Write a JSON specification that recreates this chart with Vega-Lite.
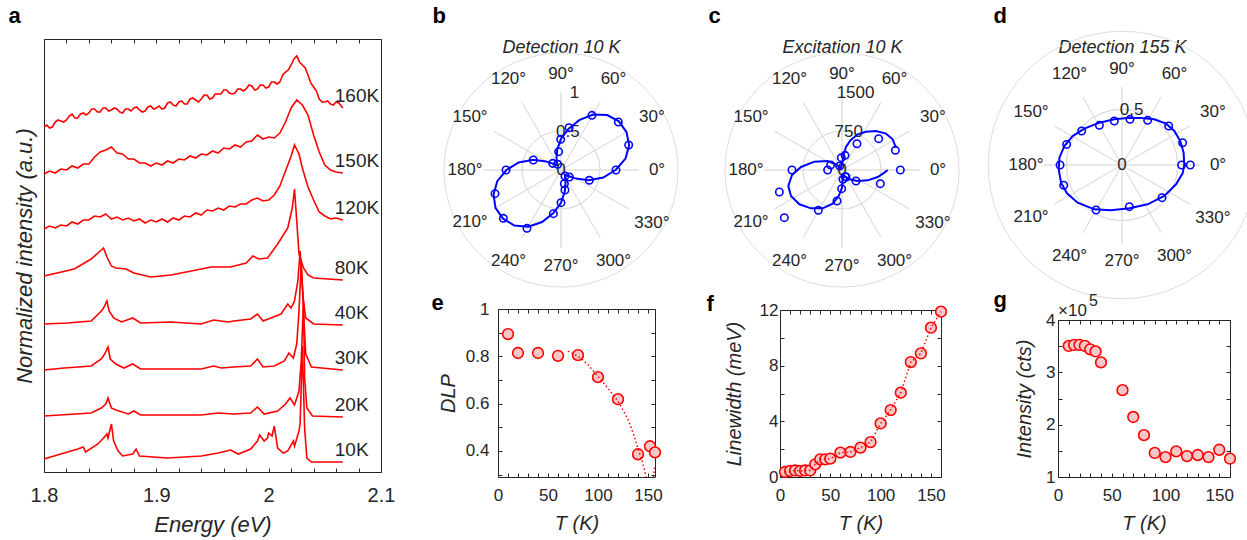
{
"$schema": "https://vega.github.io/schema/vega-lite/v6.json",
"background": "white",
"padding": {"left": 7, "top": 3, "right": 5, "bottom": 2},
"config": {
  "font": "Liberation Sans",
  "view": {"stroke": "#262626", "strokeWidth": 1},
  "axis": {"domain": false, "grid": false, "labelColor": "#262626", "titleColor": "#262626", "tickColor": "#262626", "titleFontWeight": "normal", "titleFontStyle": "italic", "labelFlush": false, "labelOverlap": false, "labelFont": "Liberation Sans", "titleFont": "Liberation Sans"}
},
"datasets": {
"spec": [
{"T":"160K","E":1.8,"I":345},{"T":"160K","E":1.8025,"I":347},{"T":"160K","E":1.805,"I":344},{"T":"160K","E":1.8075,"I":345},{"T":"160K","E":1.81,"I":350},{"T":"160K","E":1.8125,"I":352},{"T":"160K","E":1.815,"I":351},{"T":"160K","E":1.8175,"I":350},{"T":"160K","E":1.82,"I":352},{"T":"160K","E":1.8225,"I":356},{"T":"160K","E":1.825,"I":358},{"T":"160K","E":1.8275,"I":354},{"T":"160K","E":1.83,"I":354},{"T":"160K","E":1.8325,"I":358},{"T":"160K","E":1.835,"I":359},{"T":"160K","E":1.8375,"I":357},{"T":"160K","E":1.84,"I":359},{"T":"160K","E":1.8425,"I":363},{"T":"160K","E":1.845,"I":363},{"T":"160K","E":1.8475,"I":360},{"T":"160K","E":1.85,"I":360},{"T":"160K","E":1.8525,"I":364},{"T":"160K","E":1.855,"I":364},{"T":"160K","E":1.8575,"I":361},{"T":"160K","E":1.86,"I":362},{"T":"160K","E":1.8625,"I":364},{"T":"160K","E":1.865,"I":363},{"T":"160K","E":1.8675,"I":360},{"T":"160K","E":1.87,"I":359},{"T":"160K","E":1.8725,"I":363},{"T":"160K","E":1.875,"I":363},{"T":"160K","E":1.8775,"I":361},{"T":"160K","E":1.88,"I":364},{"T":"160K","E":1.8825,"I":365},{"T":"160K","E":1.885,"I":362},{"T":"160K","E":1.8875,"I":360},{"T":"160K","E":1.89,"I":361},{"T":"160K","E":1.8925,"I":365},{"T":"160K","E":1.895,"I":366},{"T":"160K","E":1.8975,"I":363},{"T":"160K","E":1.9,"I":364},{"T":"160K","E":1.9025,"I":366},{"T":"160K","E":1.905,"I":363},{"T":"160K","E":1.9075,"I":364},{"T":"160K","E":1.91,"I":369},{"T":"160K","E":1.9125,"I":370},{"T":"160K","E":1.915,"I":367},{"T":"160K","E":1.9175,"I":366},{"T":"160K","E":1.92,"I":370},{"T":"160K","E":1.9225,"I":371},{"T":"160K","E":1.925,"I":368},{"T":"160K","E":1.9275,"I":368},{"T":"160K","E":1.93,"I":373},{"T":"160K","E":1.9325,"I":374},{"T":"160K","E":1.935,"I":372},{"T":"160K","E":1.9375,"I":370},{"T":"160K","E":1.94,"I":373},{"T":"160K","E":1.9425,"I":377},{"T":"160K","E":1.945,"I":377},{"T":"160K","E":1.9475,"I":373},{"T":"160K","E":1.95,"I":374},{"T":"160K","E":1.9525,"I":378},{"T":"160K","E":1.955,"I":378},{"T":"160K","E":1.9575,"I":378},{"T":"160K","E":1.96,"I":382},{"T":"160K","E":1.9625,"I":382},{"T":"160K","E":1.965,"I":379},{"T":"160K","E":1.9675,"I":378},{"T":"160K","E":1.97,"I":379},{"T":"160K","E":1.9725,"I":383},{"T":"160K","E":1.975,"I":383},{"T":"160K","E":1.9775,"I":381},{"T":"160K","E":1.98,"I":383},{"T":"160K","E":1.9825,"I":387},{"T":"160K","E":1.985,"I":386},{"T":"160K","E":1.9875,"I":382},{"T":"160K","E":1.99,"I":383},{"T":"160K","E":1.9925,"I":387},{"T":"160K","E":1.995,"I":387},{"T":"160K","E":1.9975,"I":384},{"T":"160K","E":2.0,"I":385},{"T":"160K","E":2.0025,"I":390},{"T":"160K","E":2.005,"I":390},{"T":"160K","E":2.0075,"I":388},{"T":"160K","E":2.01,"I":390},{"T":"160K","E":2.0125,"I":397},{"T":"160K","E":2.015,"I":400},{"T":"160K","E":2.0175,"I":402},{"T":"160K","E":2.02,"I":407},{"T":"160K","E":2.0225,"I":413},{"T":"160K","E":2.025,"I":416},{"T":"160K","E":2.0275,"I":410},{"T":"160K","E":2.03,"I":407},{"T":"160K","E":2.0325,"I":404},{"T":"160K","E":2.035,"I":397},{"T":"160K","E":2.0375,"I":389},{"T":"160K","E":2.04,"I":385},{"T":"160K","E":2.0425,"I":381},{"T":"160K","E":2.045,"I":373},{"T":"160K","E":2.0475,"I":370},{"T":"160K","E":2.05,"I":370},{"T":"160K","E":2.0525,"I":371},{"T":"160K","E":2.055,"I":368},{"T":"160K","E":2.0575,"I":367},{"T":"160K","E":2.06,"I":370},{"T":"160K","E":2.0625,"I":369},{"T":"160K","E":2.066,"I":364},
{"T":"150K","E":1.800,"I":298},{"T":"150K","E":1.805,"I":301},{"T":"150K","E":1.810,"I":299},{"T":"150K","E":1.815,"I":303},{"T":"150K","E":1.820,"I":302},{"T":"150K","E":1.825,"I":306},{"T":"150K","E":1.830,"I":304},{"T":"150K","E":1.835,"I":308},{"T":"150K","E":1.840,"I":308},{"T":"150K","E":1.845,"I":315},{"T":"150K","E":1.850,"I":320},{"T":"150K","E":1.855,"I":322},{"T":"150K","E":1.860,"I":325},{"T":"150K","E":1.865,"I":319},{"T":"150K","E":1.870,"I":318},{"T":"150K","E":1.875,"I":313},{"T":"150K","E":1.880,"I":313},{"T":"150K","E":1.885,"I":309},{"T":"150K","E":1.890,"I":309},{"T":"150K","E":1.895,"I":306},{"T":"150K","E":1.900,"I":309},{"T":"150K","E":1.905,"I":307},{"T":"150K","E":1.910,"I":311},{"T":"150K","E":1.915,"I":309},{"T":"150K","E":1.920,"I":313},{"T":"150K","E":1.925,"I":312},{"T":"150K","E":1.930,"I":316},{"T":"150K","E":1.935,"I":314},{"T":"150K","E":1.940,"I":318},{"T":"150K","E":1.945,"I":317},{"T":"150K","E":1.950,"I":321},{"T":"150K","E":1.955,"I":319},{"T":"150K","E":1.960,"I":324},{"T":"150K","E":1.965,"I":323},{"T":"150K","E":1.970,"I":327},{"T":"150K","E":1.975,"I":325},{"T":"150K","E":1.980,"I":330},{"T":"150K","E":1.985,"I":331},{"T":"150K","E":1.990,"I":337},{"T":"150K","E":1.995,"I":333},{"T":"150K","E":2.000,"I":335},{"T":"150K","E":2.005,"I":334},{"T":"150K","E":2.010,"I":339},{"T":"150K","E":2.015,"I":350},{"T":"150K","E":2.020,"I":364},{"T":"150K","E":2.025,"I":372},{"T":"150K","E":2.030,"I":367},{"T":"150K","E":2.035,"I":357},{"T":"150K","E":2.040,"I":337},{"T":"150K","E":2.045,"I":320},{"T":"150K","E":2.050,"I":307},{"T":"150K","E":2.055,"I":302},{"T":"150K","E":2.060,"I":300},{"T":"150K","E":2.066,"I":299},
{"T":"120K","E":1.800,"I":243},{"T":"120K","E":1.805,"I":246},{"T":"120K","E":1.810,"I":244},{"T":"120K","E":1.815,"I":247},{"T":"120K","E":1.820,"I":246},{"T":"120K","E":1.825,"I":250},{"T":"120K","E":1.830,"I":248},{"T":"120K","E":1.835,"I":252},{"T":"120K","E":1.840,"I":252},{"T":"120K","E":1.845,"I":256},{"T":"120K","E":1.850,"I":255},{"T":"120K","E":1.855,"I":258},{"T":"120K","E":1.860,"I":253},{"T":"120K","E":1.865,"I":255},{"T":"120K","E":1.870,"I":252},{"T":"120K","E":1.875,"I":254},{"T":"120K","E":1.880,"I":251},{"T":"120K","E":1.885,"I":253},{"T":"120K","E":1.890,"I":249},{"T":"120K","E":1.895,"I":252},{"T":"120K","E":1.900,"I":250},{"T":"120K","E":1.905,"I":253},{"T":"120K","E":1.910,"I":250},{"T":"120K","E":1.915,"I":254},{"T":"120K","E":1.920,"I":252},{"T":"120K","E":1.925,"I":256},{"T":"120K","E":1.930,"I":255},{"T":"120K","E":1.935,"I":259},{"T":"120K","E":1.940,"I":257},{"T":"120K","E":1.945,"I":262},{"T":"120K","E":1.950,"I":261},{"T":"120K","E":1.955,"I":264},{"T":"120K","E":1.960,"I":262},{"T":"120K","E":1.965,"I":266},{"T":"120K","E":1.970,"I":265},{"T":"120K","E":1.975,"I":268},{"T":"120K","E":1.980,"I":268},{"T":"120K","E":1.985,"I":272},{"T":"120K","E":1.990,"I":274},{"T":"120K","E":1.995,"I":271},{"T":"120K","E":2.000,"I":272},{"T":"120K","E":2.005,"I":277},{"T":"120K","E":2.010,"I":286},{"T":"120K","E":2.015,"I":301},{"T":"120K","E":2.020,"I":316},{"T":"120K","E":2.023,"I":327},{"T":"120K","E":2.027,"I":318},{"T":"120K","E":2.030,"I":304},{"T":"120K","E":2.035,"I":285},{"T":"120K","E":2.040,"I":272},{"T":"120K","E":2.045,"I":260},{"T":"120K","E":2.050,"I":256},{"T":"120K","E":2.055,"I":253},{"T":"120K","E":2.060,"I":254},{"T":"120K","E":2.066,"I":252},
{"T":"80K","E":1.800,"I":196},{"T":"80K","E":1.827,"I":203},{"T":"80K","E":1.842,"I":213},{"T":"80K","E":1.848,"I":219},{"T":"80K","E":1.853,"I":224},{"T":"80K","E":1.856,"I":215},{"T":"80K","E":1.860,"I":206},{"T":"80K","E":1.864,"I":204},{"T":"80K","E":1.873,"I":203},{"T":"80K","E":1.880,"I":199},{"T":"80K","E":1.895,"I":195},{"T":"80K","E":1.913,"I":197},{"T":"80K","E":1.931,"I":201},{"T":"80K","E":1.949,"I":205},{"T":"80K","E":1.966,"I":205},{"T":"80K","E":1.980,"I":209},{"T":"80K","E":1.986,"I":216},{"T":"80K","E":1.991,"I":213},{"T":"80K","E":1.999,"I":214},{"T":"80K","E":2.008,"I":228},{"T":"80K","E":2.017,"I":244},{"T":"80K","E":2.021,"I":264},{"T":"80K","E":2.023,"I":283},{"T":"80K","E":2.025,"I":251},{"T":"80K","E":2.027,"I":218},{"T":"80K","E":2.031,"I":204},{"T":"80K","E":2.035,"I":197},{"T":"80K","E":2.040,"I":194},{"T":"80K","E":2.066,"I":192},
{"T":"40K","E":1.800,"I":148},{"T":"40K","E":1.821,"I":149},{"T":"40K","E":1.842,"I":151},{"T":"40K","E":1.851,"I":161},{"T":"40K","E":1.853,"I":164},{"T":"40K","E":1.856,"I":171},{"T":"40K","E":1.858,"I":161},{"T":"40K","E":1.862,"I":154},{"T":"40K","E":1.869,"I":150},{"T":"40K","E":1.879,"I":154},{"T":"40K","E":1.886,"I":149},{"T":"40K","E":1.913,"I":150},{"T":"40K","E":1.940,"I":148},{"T":"40K","E":1.951,"I":152},{"T":"40K","E":1.964,"I":150},{"T":"40K","E":1.969,"I":151},{"T":"40K","E":1.984,"I":153},{"T":"40K","E":1.990,"I":158},{"T":"40K","E":1.995,"I":151},{"T":"40K","E":2.002,"I":154},{"T":"40K","E":2.011,"I":158},{"T":"40K","E":2.017,"I":168},{"T":"40K","E":2.020,"I":164},{"T":"40K","E":2.023,"I":171},{"T":"40K","E":2.026,"I":191},{"T":"40K","E":2.028,"I":221},{"T":"40K","E":2.031,"I":171},{"T":"40K","E":2.033,"I":154},{"T":"40K","E":2.040,"I":148},{"T":"40K","E":2.066,"I":147},
{"T":"30K","E":1.800,"I":102},{"T":"30K","E":1.818,"I":104},{"T":"30K","E":1.842,"I":106},{"T":"30K","E":1.851,"I":113},{"T":"30K","E":1.854,"I":118},{"T":"30K","E":1.857,"I":125},{"T":"30K","E":1.859,"I":113},{"T":"30K","E":1.864,"I":108},{"T":"30K","E":1.871,"I":104},{"T":"30K","E":1.879,"I":108},{"T":"30K","E":1.886,"I":103},{"T":"30K","E":1.940,"I":103},{"T":"30K","E":1.951,"I":106},{"T":"30K","E":1.958,"I":104},{"T":"30K","E":1.969,"I":105},{"T":"30K","E":1.984,"I":106},{"T":"30K","E":1.990,"I":113},{"T":"30K","E":1.995,"I":105},{"T":"30K","E":2.005,"I":106},{"T":"30K","E":2.014,"I":111},{"T":"30K","E":2.018,"I":119},{"T":"30K","E":2.022,"I":114},{"T":"30K","E":2.025,"I":128},{"T":"30K","E":2.027,"I":161},{"T":"30K","E":2.029,"I":209},{"T":"30K","E":2.031,"I":161},{"T":"30K","E":2.033,"I":118},{"T":"30K","E":2.038,"I":105},{"T":"30K","E":2.066,"I":102},
{"T":"20K","E":1.800,"I":56},{"T":"20K","E":1.842,"I":59},{"T":"20K","E":1.851,"I":64},{"T":"20K","E":1.855,"I":68},{"T":"20K","E":1.857,"I":74},{"T":"20K","E":1.860,"I":64},{"T":"20K","E":1.864,"I":62},{"T":"20K","E":1.875,"I":58},{"T":"20K","E":1.880,"I":61},{"T":"20K","E":1.886,"I":57},{"T":"20K","E":1.940,"I":57},{"T":"20K","E":1.955,"I":59},{"T":"20K","E":1.969,"I":58},{"T":"20K","E":1.984,"I":59},{"T":"20K","E":1.990,"I":65},{"T":"20K","E":1.996,"I":58},{"T":"20K","E":2.008,"I":61},{"T":"20K","E":2.015,"I":68},{"T":"20K","E":2.019,"I":74},{"T":"20K","E":2.023,"I":67},{"T":"20K","E":2.027,"I":81},{"T":"20K","E":2.029,"I":111},{"T":"20K","E":2.031,"I":171},{"T":"20K","E":2.032,"I":94},{"T":"20K","E":2.034,"I":64},{"T":"20K","E":2.039,"I":56},{"T":"20K","E":2.066,"I":55},
{"T":"10K","E":1.800,"I":13},{"T":"10K","E":1.821,"I":20},{"T":"10K","E":1.830,"I":23},{"T":"10K","E":1.835,"I":25},{"T":"10K","E":1.837,"I":20},{"T":"10K","E":1.848,"I":28},{"T":"10K","E":1.853,"I":34},{"T":"10K","E":1.856,"I":38},{"T":"10K","E":1.857,"I":34},{"T":"10K","E":1.860,"I":48},{"T":"10K","E":1.862,"I":31},{"T":"10K","E":1.866,"I":21},{"T":"10K","E":1.870,"I":16},{"T":"10K","E":1.879,"I":18},{"T":"10K","E":1.882,"I":23},{"T":"10K","E":1.885,"I":16},{"T":"10K","E":1.910,"I":14},{"T":"10K","E":1.940,"I":16},{"T":"10K","E":1.955,"I":19},{"T":"10K","E":1.966,"I":22},{"T":"10K","E":1.973,"I":18},{"T":"10K","E":1.984,"I":23},{"T":"10K","E":1.990,"I":31},{"T":"10K","E":1.992,"I":37},{"T":"10K","E":1.996,"I":31},{"T":"10K","E":1.999,"I":34},{"T":"10K","E":2.000,"I":39},{"T":"10K","E":2.003,"I":36},{"T":"10K","E":2.005,"I":46},{"T":"10K","E":2.008,"I":24},{"T":"10K","E":2.013,"I":19},{"T":"10K","E":2.017,"I":21},{"T":"10K","E":2.022,"I":31},{"T":"10K","E":2.023,"I":26},{"T":"10K","E":2.027,"I":41},{"T":"10K","E":2.028,"I":48},{"T":"10K","E":2.030,"I":126},{"T":"10K","E":2.032,"I":44},{"T":"10K","E":2.034,"I":14},{"T":"10K","E":2.038,"I":10},{"T":"10K","E":2.066,"I":10}
],
"ang": [{"deg":0,"lab":"0°"},{"deg":30,"lab":"30°"},{"deg":60,"lab":"60°"},{"deg":90,"lab":"90°"},{"deg":120,"lab":"120°"},{"deg":150,"lab":"150°"},{"deg":180,"lab":"180°"},{"deg":210,"lab":"210°"},{"deg":240,"lab":"240°"},{"deg":270,"lab":"270°"},{"deg":300,"lab":"300°"},{"deg":330,"lab":"330°"}],
"rt_b": [{"r":0,"lab":"0"},{"r":0.5,"lab":"0.5"},{"r":1,"lab":"1"}],
"rt_c": [{"r":0,"lab":"0"},{"r":750,"lab":"750"},{"r":1500,"lab":"1500"}],
"rt_d": [{"r":0,"lab":"0"},{"r":0.5,"lab":"0.5"},{"r":0.7,"lab":""}],
"pb_pts": [{"x":0.103,"y":0.543},{"x":-0.004,"y":0.393},{"x":0.397,"y":0.701},{"x":0.735,"y":0.615},{"x":0.868,"y":0.321},{"x":0.705,"y":0},{"x":0.363,"y":-0.132},{"x":0.107,"y":-0.09},{"x":0.051,"y":-0.077},{"x":-0.03,"y":0.235},{"x":-0.107,"y":0.085},{"x":-0.043,"y":0.073},{"x":-0.355,"y":0.128},{"x":-0.705,"y":0},{"x":-0.846,"y":-0.303},{"x":-0.739,"y":-0.62},{"x":-0.436,"y":-0.748},{"x":-0.098,"y":-0.56},{"x":0,"y":-0.419},{"x":0.051,"y":-0.256},{"x":0.043,"y":-0.175}],
"pb_curve": [{"i":0,"x":0.7,"y":0},{"i":1,"x":0.827,"y":0.146},{"i":2,"x":0.874,"y":0.318},{"i":3,"x":0.84,"y":0.485},{"i":4,"x":0.743,"y":0.624},{"i":5,"x":0.592,"y":0.705},{"i":6,"x":0.41,"y":0.71},{"i":7,"x":0.233,"y":0.639},{"i":8,"x":0.092,"y":0.522},{"i":9,"x":0,"y":0.4},{"i":10,"x":-0.047,"y":0.266},{"i":11,"x":-0.058,"y":0.16},{"i":12,"x":-0.05,"y":0.087},{"i":13,"x":-0.051,"y":0.061},{"i":14,"x":-0.092,"y":0.077},{"i":15,"x":-0.191,"y":0.11},{"i":16,"x":-0.357,"y":0.13},{"i":17,"x":-0.542,"y":0.096},{"i":18,"x":-0.7,"y":0},{"i":19,"x":-0.817,"y":-0.144},{"i":20,"x":-0.865,"y":-0.315},{"i":21,"x":-0.84,"y":-0.485},{"i":22,"x":-0.743,"y":-0.624},{"i":23,"x":-0.598,"y":-0.712},{"i":24,"x":-0.42,"y":-0.727},{"i":25,"x":-0.243,"y":-0.667},{"i":26,"x":-0.097,"y":-0.552},{"i":27,"x":0,"y":-0.42},{"i":28,"x":0.049,"y":-0.276},{"i":29,"x":0.058,"y":-0.16},{"i":30,"x":0.05,"y":-0.087},{"i":31,"x":0.051,"y":-0.061},{"i":32,"x":0.092,"y":-0.077},{"i":33,"x":0.191,"y":-0.11},{"i":34,"x":0.357,"y":-0.13},{"i":35,"x":0.542,"y":-0.096},{"i":36,"x":0.7,"y":0}],
"pc_pts": [{"x":288,"y":506},{"x":705,"y":603},{"x":1026,"y":378},{"x":1122,"y":0},{"x":737,"y":-263},{"x":269,"y":-212},{"x":77,"y":-135},{"x":-962,"y":0},{"x":-1205,"y":-423},{"x":-1109,"y":-917},{"x":-455,"y":-776},{"x":-96,"y":-596},{"x":-6,"y":-359},{"x":19,"y":-179},{"x":64,"y":-128},{"x":-276,"y":0},{"x":-218,"y":96},{"x":-45,"y":77},{"x":-13,"y":237},{"x":58,"y":282}],
"pc_curve": [{"i":0,"x":878,"y":0},{"i":1,"x":814,"y":-51},{"i":2,"x":686,"y":-135},{"i":3,"x":494,"y":-199},{"i":4,"x":301,"y":-212},{"i":5,"x":141,"y":-179},{"i":6,"x":45,"y":-115},{"i":7,"x":13,"y":-179},{"i":8,"x":0,"y":-340},{"i":9,"x":-64,"y":-500},{"i":10,"x":-179,"y":-647},{"i":11,"x":-372,"y":-737},{"i":12,"x":-596,"y":-737},{"i":13,"x":-820,"y":-660},{"i":14,"x":-981,"y":-500},{"i":15,"x":-1032,"y":-308},{"i":16,"x":-962,"y":-96},{"i":17,"x":-788,"y":58},{"i":18,"x":-532,"y":160},{"i":19,"x":-276,"y":173},{"i":20,"x":-115,"y":109},{"i":21,"x":-32,"y":32},{"i":22,"x":-20,"y":60},{"i":23,"x":13,"y":173},{"i":24,"x":32,"y":301},{"i":25,"x":77,"y":442},{"i":26,"x":160,"y":570},{"i":27,"x":301,"y":686},{"i":28,"x":462,"y":737},{"i":29,"x":654,"y":750},{"i":30,"x":846,"y":699},{"i":31,"x":974,"y":590},{"i":32,"x":1038,"y":429}],
"pd_pts": [{"x":0.072,"y":0.41},{"x":0.23,"y":0.401},{"x":0.419,"y":0.35},{"x":0.544,"y":0.2},{"x":0.535,"y":0},{"x":0.613,"y":0},{"x":0.359,"y":-0.293},{"x":0.066,"y":-0.374},{"x":-0.233,"y":-0.404},{"x":-0.523,"y":-0.182},{"x":-0.556,"y":0},{"x":-0.497,"y":0.185},{"x":-0.362,"y":0.305},{"x":-0.203,"y":0.356},{"x":-0.069,"y":0.395}],
"pd_curve": [{"i":0,"x":0.559,"y":0},{"i":1,"x":0.553,"y":0.111},{"i":2,"x":0.523,"y":0.215},{"i":3,"x":0.47,"y":0.305},{"i":4,"x":0.395,"y":0.371},{"i":5,"x":0.29,"y":0.41},{"i":6,"x":0.17,"y":0.422},{"i":7,"x":0.051,"y":0.422},{"i":8,"x":-0.069,"y":0.41},{"i":9,"x":-0.203,"y":0.38},{"i":10,"x":-0.338,"y":0.326},{"i":11,"x":-0.443,"y":0.26},{"i":12,"x":-0.517,"y":0.17},{"i":13,"x":-0.562,"y":0.066},{"i":14,"x":-0.568,"y":-0.039},{"i":15,"x":-0.547,"y":-0.159},{"i":16,"x":-0.494,"y":-0.254},{"i":17,"x":-0.398,"y":-0.338},{"i":18,"x":-0.248,"y":-0.398},{"i":19,"x":-0.099,"y":-0.407},{"i":20,"x":0.066,"y":-0.389},{"i":21,"x":0.23,"y":-0.353},{"i":22,"x":0.38,"y":-0.278},{"i":23,"x":0.485,"y":-0.173},{"i":24,"x":0.544,"y":-0.075},{"i":25,"x":0.559,"y":0}],
"dlp": [{"T":10,"DLP":0.894},{"T":20,"DLP":0.814},{"T":40,"DLP":0.814},{"T":60,"DLP":0.802},{"T":80,"DLP":0.805},{"T":100,"DLP":0.712},{"T":120,"DLP":0.619},{"T":140,"DLP":0.386},{"T":152,"DLP":0.42},{"T":157,"DLP":0.394}],
"dlpfit": [{"s":"a","T":70,"v":0.822},{"s":"a","T":80,"v":0.8},{"s":"a","T":90,"v":0.765},{"s":"a","T":100,"v":0.715},{"s":"a","T":110,"v":0.665},{"s":"a","T":120,"v":0.61},{"s":"a","T":130,"v":0.535},{"s":"a","T":136,"v":0.465},{"s":"a","T":140,"v":0.41},{"s":"a","T":144,"v":0.36},{"s":"a","T":147,"v":0.31},{"s":"a","T":148,"v":0.29},{"s":"b","T":155.5,"v":0.29},{"s":"b","T":156.5,"v":0.33}],
"lw": [{"T":5,"W":0.36},{"T":10,"W":0.43},{"T":15,"W":0.47},{"T":20,"W":0.43},{"T":25,"W":0.47},{"T":30,"W":0.47},{"T":35,"W":0.91},{"T":40,"W":1.27},{"T":45,"W":1.27},{"T":50,"W":1.32},{"T":60,"W":1.75},{"T":70,"W":1.8},{"T":80,"W":2.11},{"T":90,"W":2.51},{"T":100,"W":3.85},{"T":110,"W":4.81},{"T":120,"W":6.06},{"T":130,"W":8.26},{"T":140,"W":8.88},{"T":150,"W":10.73},{"T":160,"W":11.88}],
"inten": [{"T":10,"C":350500},{"T":15,"C":352400},{"T":20,"C":352400},{"T":25,"C":350500},{"T":30,"C":344000},{"T":35,"C":340000},{"T":40,"C":319000},{"T":60,"C":266000},{"T":70,"C":214700},{"T":80,"C":180000},{"T":90,"C":146000},{"T":100,"C":138000},{"T":110,"C":149000},{"T":120,"C":140000},{"T":130,"C":142000},{"T":140,"C":138000},{"T":150,"C":152000},{"T":160,"C":135000}]
},
"hconcat": [
  {
   "width": 337, "height": 433,
   "layer": [
    {"data": {"name": "spec"}, "mark": {"type": "line", "color": "#ff0000", "strokeWidth": 1.6},
     "encoding": {
      "x": {"field": "E", "type": "quantitative", "scale": {"domain": [1.8, 2.1], "nice": false, "zero": false},
            "axis": {"orient": "bottom", "values": [1.8,1.82,1.84,1.86,1.88,1.9,1.92,1.94,1.96,1.98,2,2.02,2.04,2.06,2.08,2.1], "labelExpr": "abs(datum.value*10 - round(datum.value*10)) < 0.01 ? format(datum.value, '.1~f') : ''", "tickSize": -4, "labelPadding": 17, "labelFontSize": 20, "title": "Energy (eV)", "titleFontSize": 22, "titlePadding": 9}},
      "y": {"field": "I", "type": "quantitative", "scale": {"domain": [0, 433], "nice": false, "zero": false},
            "axis": {"labels": false, "ticks": false, "title": "Normalized intensity (a.u.)", "titleFontSize": 22, "titlePadding": 8}},
      "detail": {"field": "T"}}},
    {"data": {"name": "spec"},
     "transform": [{"joinaggregate": [{"op": "max", "field": "E", "as": "Emax"}], "groupby": ["T"]}, {"filter": "datum.E == datum.Emax"}],
     "mark": {"type": "text", "align": "left", "baseline": "middle", "dx": -8, "dy": -12, "fontSize": 19, "color": "#262626"},
     "encoding": {"x": {"field": "E", "type": "quantitative", "axis": null}, "y": {"field": "I", "type": "quantitative", "axis": null}, "text": {"field": "T"}}},
    {"data": {"name": "spec"}, "mark": {"type": "point", "opacity": 0},
     "encoding": {"x": {"field": "E", "type": "quantitative", "axis": {"orient": "top", "values": [1.8,1.82,1.84,1.86,1.88,1.9,1.92,1.94,1.96,1.98,2,2.02,2.04,2.06,2.08,2.1], "labels": false, "tickSize": -4, "title": "a", "titleX": -36, "titleY": -17, "titleAngle": 0, "titleAlign": "left", "titleBaseline": "alphabetic", "titleFontSize": 22, "titleFontWeight": "bold", "titleFontStyle": "normal", "titleColor": "#000000"}},
                  "y": {"field": "I", "type": "quantitative", "axis": null}}}
   ],
   "resolve": {"axis": {"x": "independent", "y": "independent"}}
  },
  {"hconcat": [
  {"vconcat": [
   {
    "width": 126, "height": 262, "view": {"stroke": null},
    "layer": [
     {"data": {"name": "rt_b"}, "mark": {"type": "arc", "theta": 0, "theta2": 6.2832, "filled": false, "stroke": "#dedede", "strokeWidth": 1},
      "encoding": {"radius": {"field": "r", "type": "quantitative", "scale": {"type": "linear", "domain": [0, 1], "range": [0, 78], "zero": true, "nice": false}}}},
     {"data": {"name": "ang"}, "mark": {"type": "arc", "radius": 78, "filled": false, "stroke": "#dedede", "strokeWidth": 1},
      "encoding": {"theta": {"field": "deg", "type": "quantitative", "stack": null, "scale": {"domain": [90, -270], "range": [0, 6.283185], "nice": false, "zero": false}}, "theta2": {"field": "deg"}}},
     {"data": {"name": "ang"}, "transform": [{"filter": "datum.deg % 90 == 0"}], "mark": {"type": "text", "radius": 96, "fontSize": 17, "color": "#262626"},
      "encoding": {"theta": {"field": "deg", "type": "quantitative", "stack": null}, "text": {"field": "lab"}}},
     {"data": {"name": "ang"}, "transform": [{"filter": "datum.deg % 90 != 0"}], "mark": {"type": "text", "radius": 105, "fontSize": 17, "color": "#262626"},
      "encoding": {"theta": {"field": "deg", "type": "quantitative", "stack": null}, "text": {"field": "lab"}}},
     {"data": {"name": "rt_b"}, "mark": {"type": "text", "theta": 0.1745, "fontSize": 17, "color": "#262626"},
      "encoding": {"radius": {"field": "r", "type": "quantitative"}, "text": {"field": "lab"}}},
     {"data": {"name": "pb_curve"}, "mark": {"type": "line", "color": "#0000ff", "strokeWidth": 2},
      "encoding": {
       "x": {"field": "x", "type": "quantitative", "scale": {"domain": [-0.8077, 0.8077], "nice": false, "zero": false},
             "axis": {"orient": "top", "labels": false, "ticks": false, "title": "Detection 10 K", "titleFontSize": 18, "titleY": 13, "titleBaseline": "alphabetic"}},
       "y": {"field": "y", "type": "quantitative", "scale": {"domain": [-1.6795, 1.6795], "nice": false, "zero": false},
             "axis": {"orient": "left", "labels": false, "ticks": false, "title": "b", "titleX": -66, "titleY": -17, "titleAngle": 0, "titleAlign": "left", "titleBaseline": "alphabetic", "titleFontSize": 22, "titleFontWeight": "bold", "titleFontStyle": "normal", "titleColor": "#000000"}},
       "order": {"field": "i", "type": "quantitative"}}},
     {"data": {"name": "pb_pts"}, "mark": {"type": "point", "shape": "circle", "size": 55, "filled": false, "color": "#0000ff", "strokeWidth": 1.6, "opacity": 1},
      "encoding": {"x": {"field": "x", "type": "quantitative"}, "y": {"field": "y", "type": "quantitative"}}}
    ]
   },
   {
    "width": 157, "height": 168,
    "layer": [
     {"data": {"name": "dlp"}, "mark": {"type": "point", "shape": "circle", "filled": true, "size": 115, "fill": "#f6c7c9", "stroke": "#ff0000", "strokeWidth": 1.6, "opacity": 1},
      "encoding": {
       "x": {"field": "T", "type": "quantitative", "scale": {"domain": [0, 157], "nice": false, "zero": false},
             "axis": {"values": [0,10,20,30,40,50,60,70,80,90,100,110,120,130,140,150], "labelExpr": "datum.value % 50 == 0 ? datum.label : ''", "tickSize": -4, "labelPadding": 14, "labelFontSize": 17, "title": "T (K)", "titleFontSize": 20, "titlePadding": 10}},
       "y": {"field": "DLP", "type": "quantitative", "scale": {"domain": [0.29, 1], "nice": false, "zero": false},
             "axis": {"values": [0.3,0.4,0.5,0.6,0.7,0.8,0.9,1], "labelExpr": "(datum.value > 0.35 && abs(datum.value*5 - round(datum.value*5)) < 0.01) ? format(datum.value, '.1~f') : ''", "tickSize": -4, "labelPadding": 13, "labelFontSize": 17, "title": "DLP", "titleFontSize": 20, "titlePadding": 7}}}},
     {"data": {"name": "dlpfit"}, "mark": {"type": "line", "color": "#ff0000", "strokeWidth": 1.5, "strokeDash": [1.5, 2.5]},
      "encoding": {"x": {"field": "T", "type": "quantitative", "axis": null}, "y": {"field": "v", "type": "quantitative", "axis": null}, "detail": {"field": "s"}}},
     {"data": {"name": "dlp"}, "mark": {"type": "point", "opacity": 0},
      "encoding": {"x": {"field": "T", "type": "quantitative", "axis": {"orient": "top", "values": [0,10,20,30,40,50,60,70,80,90,100,110,120,130,140,150], "labels": false, "tickSize": -4, "title": "e", "titleX": -67, "titleY": 0, "titleAngle": 0, "titleAlign": "left", "titleBaseline": "alphabetic", "titleFontSize": 22, "titleFontWeight": "bold", "titleFontStyle": "normal", "titleColor": "#000000"}},
                   "y": {"field": "DLP", "type": "quantitative", "axis": {"orient": "right", "values": [0.3,0.4,0.5,0.6,0.7,0.8,0.9,1], "labels": false, "tickSize": -4, "title": null}}}}
    ],
    "resolve": {"axis": {"x": "independent", "y": "independent"}}
   }
  ], "spacing": 8, "bounds": "flush"},
  {"vconcat": [
   {
    "width": 124, "height": 262, "view": {"stroke": null},
    "layer": [
     {"data": {"name": "rt_c"}, "mark": {"type": "arc", "theta": 0, "theta2": 6.2832, "filled": false, "stroke": "#dedede", "strokeWidth": 1},
      "encoding": {"radius": {"field": "r", "type": "quantitative", "scale": {"type": "linear", "domain": [0, 1500], "range": [0, 78], "zero": true, "nice": false}}}},
     {"data": {"name": "ang"}, "mark": {"type": "arc", "radius": 78, "filled": false, "stroke": "#dedede", "strokeWidth": 1},
      "encoding": {"theta": {"field": "deg", "type": "quantitative", "stack": null, "scale": {"domain": [90, -270], "range": [0, 6.283185], "nice": false, "zero": false}}, "theta2": {"field": "deg"}}},
     {"data": {"name": "ang"}, "transform": [{"filter": "datum.deg % 90 == 0"}], "mark": {"type": "text", "radius": 96, "fontSize": 17, "color": "#262626"},
      "encoding": {"theta": {"field": "deg", "type": "quantitative", "stack": null}, "text": {"field": "lab"}}},
     {"data": {"name": "ang"}, "transform": [{"filter": "datum.deg % 90 != 0"}], "mark": {"type": "text", "radius": 105, "fontSize": 17, "color": "#262626"},
      "encoding": {"theta": {"field": "deg", "type": "quantitative", "stack": null}, "text": {"field": "lab"}}},
     {"data": {"name": "rt_c"}, "mark": {"type": "text", "theta": 0.1745, "fontSize": 17, "color": "#262626"},
      "encoding": {"radius": {"field": "r", "type": "quantitative"}, "text": {"field": "lab"}}},
     {"data": {"name": "pc_curve"}, "mark": {"type": "line", "color": "#0000ff", "strokeWidth": 2},
      "encoding": {
       "x": {"field": "x", "type": "quantitative", "scale": {"domain": [-1192.3, 1192.3], "nice": false, "zero": false},
             "axis": {"orient": "top", "labels": false, "ticks": false, "title": "Excitation 10 K", "titleFontSize": 18, "titleY": 13, "titleBaseline": "alphabetic"}},
       "y": {"field": "y", "type": "quantitative", "scale": {"domain": [-2519.2, 2519.2], "nice": false, "zero": false},
             "axis": {"orient": "left", "labels": false, "ticks": false, "title": "c", "titleX": -72, "titleY": -17, "titleAngle": 0, "titleAlign": "left", "titleBaseline": "alphabetic", "titleFontSize": 22, "titleFontWeight": "bold", "titleFontStyle": "normal", "titleColor": "#000000"}},
       "order": {"field": "i", "type": "quantitative"}}},
     {"data": {"name": "pc_pts"}, "mark": {"type": "point", "shape": "circle", "size": 55, "filled": false, "color": "#0000ff", "strokeWidth": 1.6, "opacity": 1},
      "encoding": {"x": {"field": "x", "type": "quantitative"}, "y": {"field": "y", "type": "quantitative"}}}
    ]
   },
   {
    "width": 161, "height": 167,
    "layer": [
     {"data": {"name": "lw"}, "mark": {"type": "point", "shape": "circle", "filled": true, "size": 115, "fill": "#f6c7c9", "stroke": "#ff0000", "strokeWidth": 1.6, "opacity": 1},
      "encoding": {
       "x": {"field": "T", "type": "quantitative", "scale": {"domain": [0, 160], "nice": false, "zero": false},
             "axis": {"values": [0,10,20,30,40,50,60,70,80,90,100,110,120,130,140,150,160], "labelExpr": "datum.value % 50 == 0 ? datum.label : ''", "tickSize": -4, "labelPadding": 14, "labelFontSize": 17, "title": "T (K)", "titleFontSize": 20, "titlePadding": 10}},
       "y": {"field": "W", "type": "quantitative", "scale": {"domain": [0, 12], "nice": false, "zero": false},
             "axis": {"values": [0,2,4,6,8,10,12], "labelExpr": "datum.value % 4 == 0 ? datum.label : ''", "tickSize": -4, "labelPadding": 6, "labelFontSize": 17, "title": "Linewidth (meV)", "titleFontSize": 20, "titlePadding": 15}}}},
     {"data": {"name": "lw"}, "mark": {"type": "line", "color": "#ff0000", "strokeWidth": 1.5, "strokeDash": [1.5, 2.5]},
      "encoding": {"x": {"field": "T", "type": "quantitative", "axis": null}, "y": {"field": "W", "type": "quantitative", "axis": null}}},
     {"data": {"name": "lw"}, "mark": {"type": "point", "opacity": 0},
      "encoding": {"x": {"field": "T", "type": "quantitative", "axis": {"orient": "top", "values": [0,10,20,30,40,50,60,70,80,90,100,110,120,130,140,150,160], "labels": false, "tickSize": -4, "title": "f", "titleX": -74, "titleY": 0, "titleAngle": 0, "titleAlign": "left", "titleBaseline": "alphabetic", "titleFontSize": 22, "titleFontWeight": "bold", "titleFontStyle": "normal", "titleColor": "#000000"}},
                   "y": {"field": "W", "type": "quantitative", "axis": {"orient": "right", "values": [0,2,4,6,8,10,12], "labels": false, "tickSize": -4, "title": null}}}}
    ],
    "resolve": {"axis": {"x": "independent", "y": "independent"}}
   }
  ], "spacing": 9, "bounds": "flush"},
  {"vconcat": [
   {
    "width": 128, "height": 252, "view": {"stroke": null},
    "layer": [
     {"data": {"name": "rt_d"}, "mark": {"type": "arc", "theta": 0, "theta2": 6.2832, "filled": false, "stroke": "#dedede", "strokeWidth": 1},
      "encoding": {"radius": {"field": "r", "type": "quantitative", "scale": {"type": "linear", "domain": [0, 0.7], "range": [0, 78], "zero": true, "nice": false}}}},
     {"data": {"name": "ang"}, "mark": {"type": "arc", "radius": 78, "filled": false, "stroke": "#dedede", "strokeWidth": 1},
      "encoding": {"theta": {"field": "deg", "type": "quantitative", "stack": null, "scale": {"domain": [90, -270], "range": [0, 6.283185], "nice": false, "zero": false}}, "theta2": {"field": "deg"}}},
     {"data": {"name": "ang"}, "transform": [{"filter": "datum.deg % 90 == 0"}], "mark": {"type": "text", "radius": 96, "fontSize": 17, "color": "#262626"},
      "encoding": {"theta": {"field": "deg", "type": "quantitative", "stack": null}, "text": {"field": "lab"}}},
     {"data": {"name": "ang"}, "transform": [{"filter": "datum.deg % 90 != 0"}], "mark": {"type": "text", "radius": 105, "fontSize": 17, "color": "#262626"},
      "encoding": {"theta": {"field": "deg", "type": "quantitative", "stack": null}, "text": {"field": "lab"}}},
     {"data": {"name": "rt_d"}, "mark": {"type": "text", "theta": 0.1745, "fontSize": 17, "color": "#262626"},
      "encoding": {"radius": {"field": "r", "type": "quantitative"}, "text": {"field": "lab"}}},
     {"data": {"name": "pd_curve"}, "mark": {"type": "line", "color": "#0000ff", "strokeWidth": 2},
      "encoding": {
       "x": {"field": "x", "type": "quantitative", "scale": {"domain": [-0.5744, 0.5744], "nice": false, "zero": false},
             "axis": {"orient": "top", "labels": false, "ticks": false, "title": "Detection 155 K", "titleFontSize": 18, "titleY": 13, "titleBaseline": "alphabetic"}},
       "y": {"field": "y", "type": "quantitative", "scale": {"domain": [-1.1308, 1.1308], "nice": false, "zero": false},
             "axis": {"orient": "left", "labels": false, "ticks": false, "title": "d", "titleX": -65, "titleY": -17, "titleAngle": 0, "titleAlign": "left", "titleBaseline": "alphabetic", "titleFontSize": 22, "titleFontWeight": "bold", "titleFontStyle": "normal", "titleColor": "#000000"}},
       "order": {"field": "i", "type": "quantitative"}}},
     {"data": {"name": "pd_pts"}, "mark": {"type": "point", "shape": "circle", "size": 55, "filled": false, "color": "#0000ff", "strokeWidth": 1.6, "opacity": 1},
      "encoding": {"x": {"field": "x", "type": "quantitative"}, "y": {"field": "y", "type": "quantitative"}}}
    ]
   },
   {
    "width": 172, "height": 157,
    "layer": [
     {"data": {"name": "inten"}, "mark": {"type": "point", "shape": "circle", "filled": true, "size": 115, "fill": "#f6c7c9", "stroke": "#ff0000", "strokeWidth": 1.6, "opacity": 1},
      "encoding": {
       "x": {"field": "T", "type": "quantitative", "scale": {"domain": [0, 160], "nice": false, "zero": false},
             "axis": {"values": [0,10,20,30,40,50,60,70,80,90,100,110,120,130,140,150,160], "labelExpr": "datum.value % 50 == 0 ? datum.label : ''", "tickSize": -4, "labelPadding": 14, "labelFontSize": 17, "title": "T (K)", "titleFontSize": 20, "titlePadding": 10}},
       "y": {"field": "C", "type": "quantitative", "scale": {"domain": [100000, 400000], "nice": false, "zero": false},
             "axis": {"values": [100000,150000,200000,250000,300000,350000,400000], "labelExpr": "datum.value % 100000 == 0 ? format(datum.value/100000, 'd') : ''", "tickSize": -4, "labelPadding": 7, "labelFontSize": 17, "title": "Intensity (cts)", "titleFontSize": 20, "titlePadding": 11}}}},
     {"data": {"values": [{}]}, "mark": {"type": "text", "text": "×10", "align": "left", "baseline": "alphabetic", "dy": -4, "fontSize": 17, "color": "#262626"},
      "encoding": {"x": {"datum": 0, "type": "quantitative", "axis": null}, "y": {"datum": 400000, "type": "quantitative", "axis": null}}},
     {"data": {"values": [{}]}, "mark": {"type": "text", "text": "5", "align": "left", "baseline": "alphabetic", "dx": 31, "dy": -14, "fontSize": 16, "color": "#262626"},
      "encoding": {"x": {"datum": 0, "type": "quantitative", "axis": null}, "y": {"datum": 400000, "type": "quantitative", "axis": null}}},
     {"data": {"name": "inten"}, "mark": {"type": "point", "opacity": 0},
      "encoding": {"x": {"field": "T", "type": "quantitative", "axis": {"orient": "top", "values": [0,10,20,30,40,50,60,70,80,90,100,110,120,130,140,150,160], "labels": false, "tickSize": -4, "title": "g", "titleX": -65, "titleY": -14, "titleAngle": 0, "titleAlign": "left", "titleBaseline": "alphabetic", "titleFontSize": 22, "titleFontWeight": "bold", "titleFontStyle": "normal", "titleColor": "#000000"}},
                   "y": {"field": "C", "type": "quantitative", "axis": {"orient": "right", "values": [100000,150000,200000,250000,300000,350000,400000], "labels": false, "tickSize": -4, "title": null}}}}
    ],
    "resolve": {"axis": {"x": "independent", "y": "independent"}}
   }
  ], "spacing": 29, "bounds": "flush"}
  ], "spacing": 25}
],
"spacing": 34
}
